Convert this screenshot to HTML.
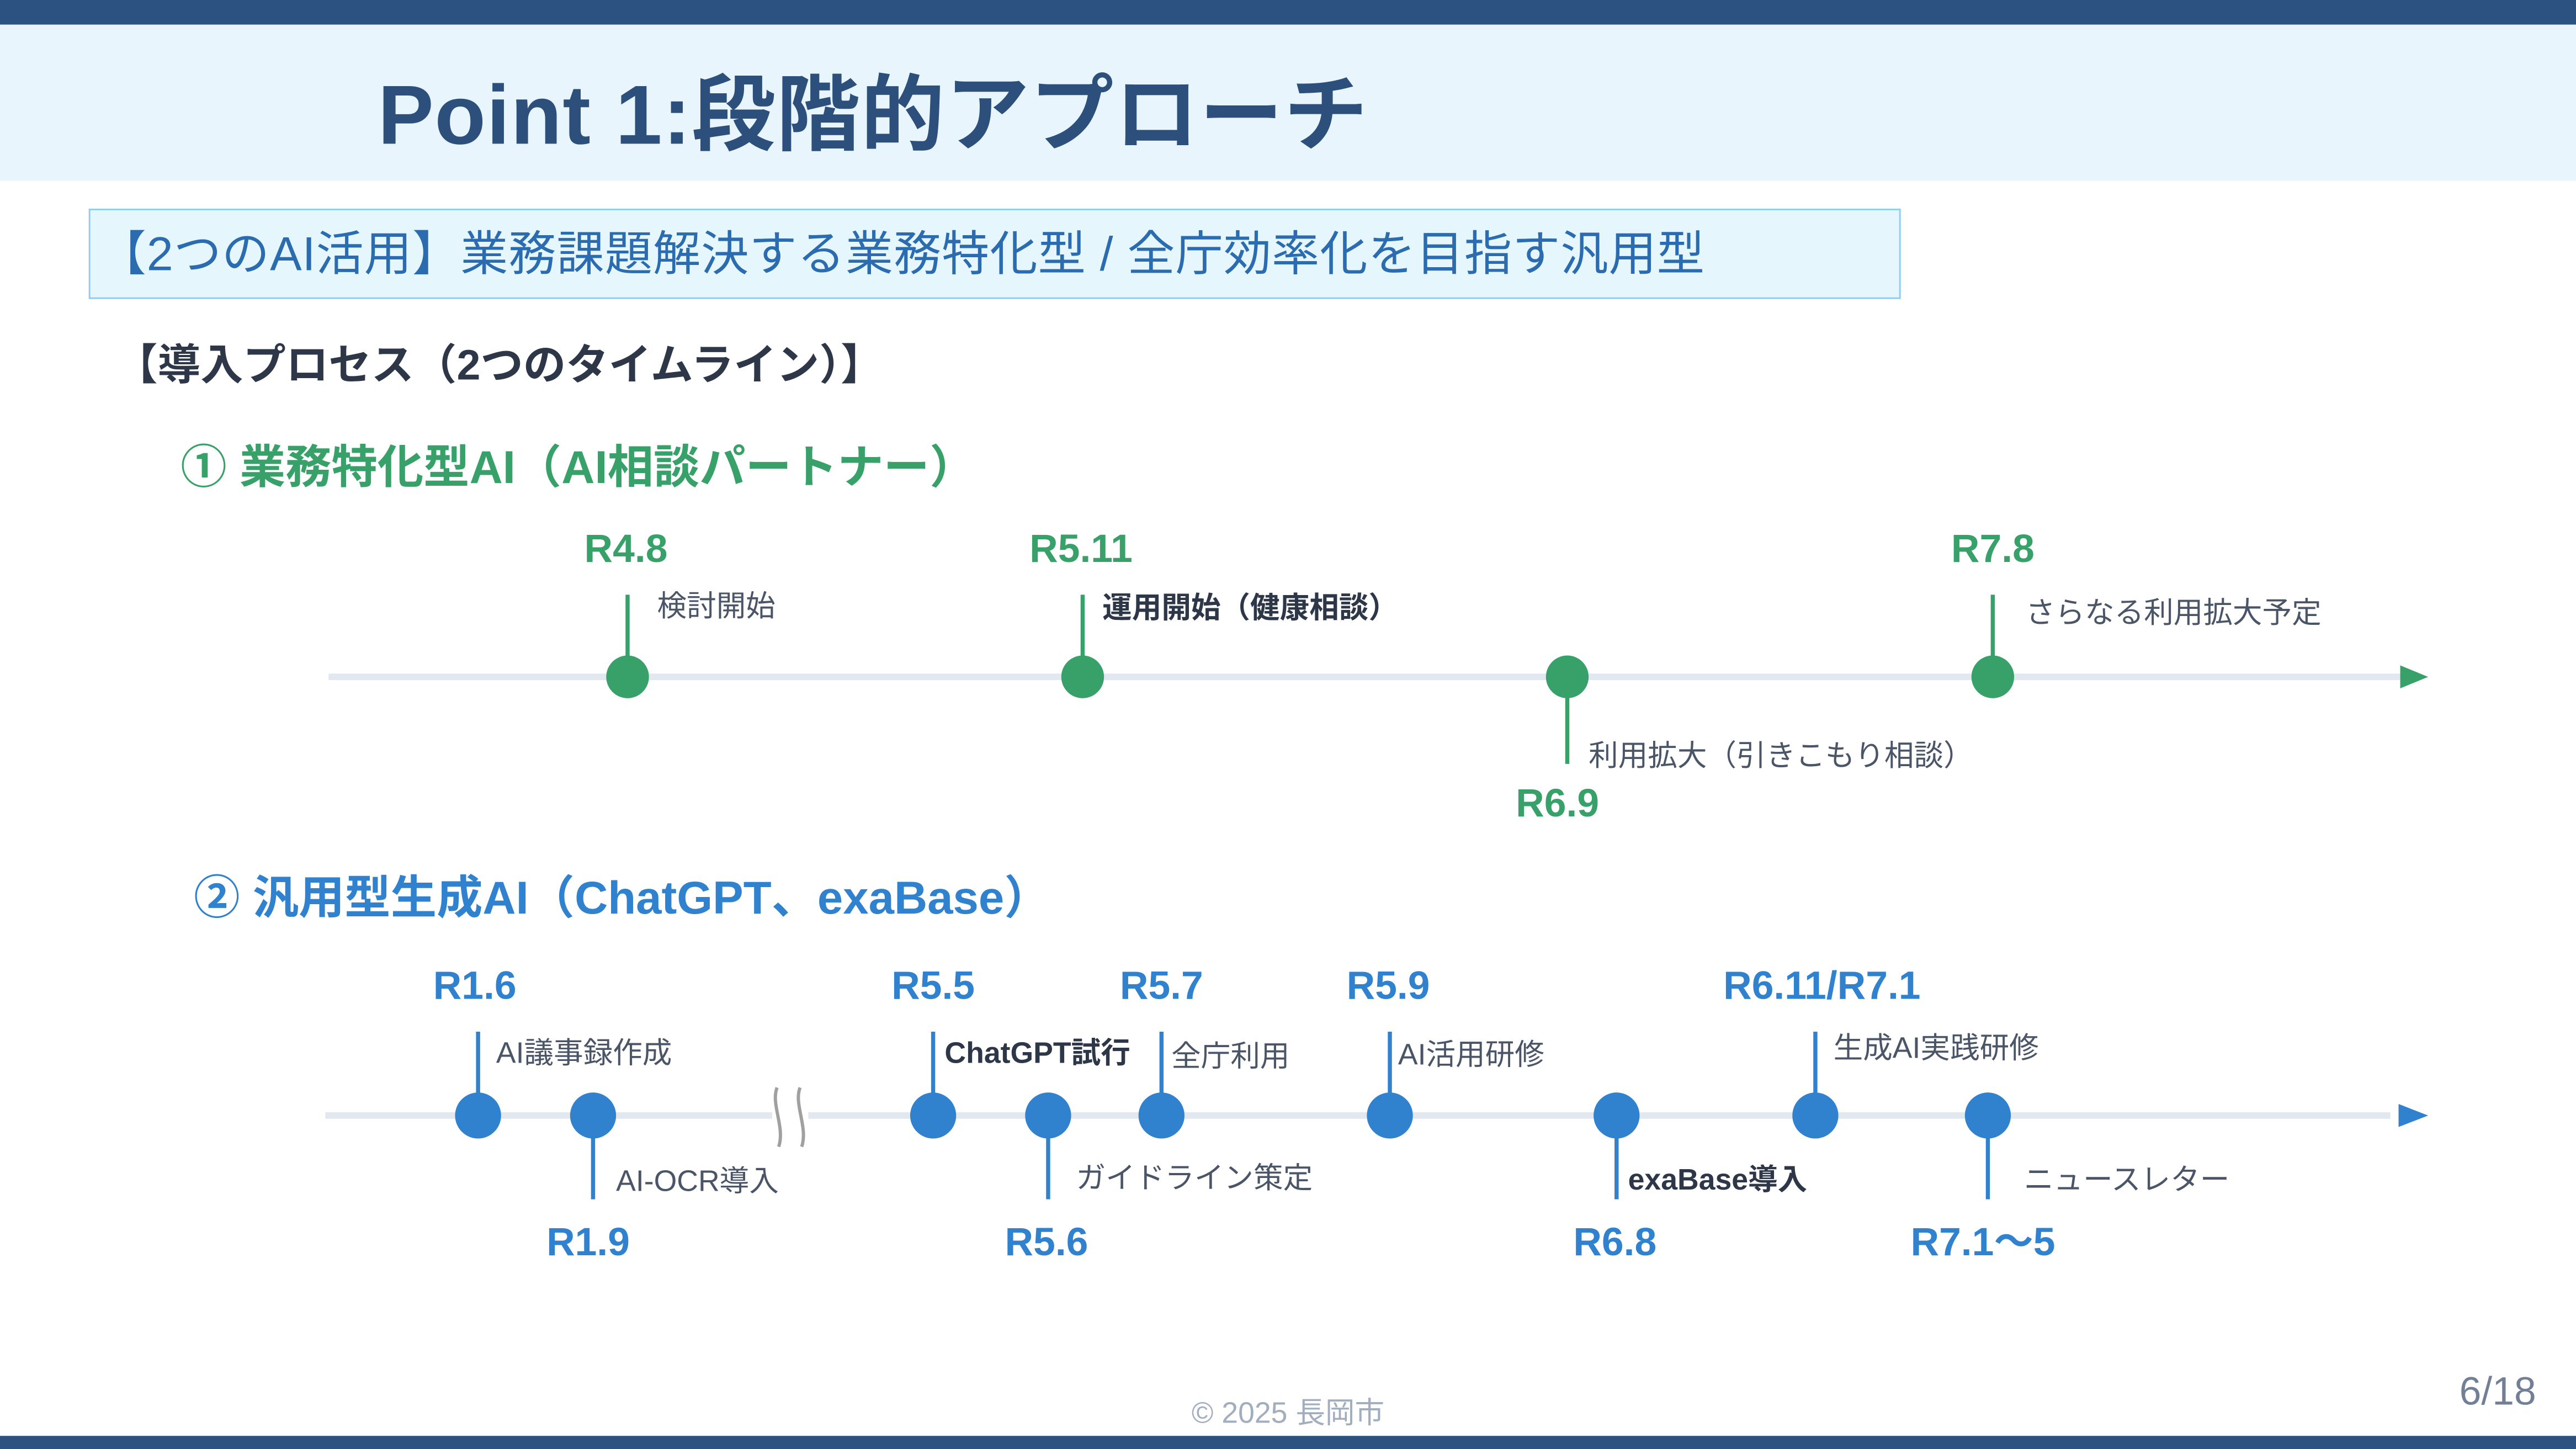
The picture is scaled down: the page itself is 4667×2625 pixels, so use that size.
<!DOCTYPE html>
<html><head><meta charset="utf-8"><style>
html,body{margin:0;padding:0;width:4667px;height:2625px;overflow:hidden;background:#fff}
#s{position:absolute;left:0;top:0;width:1568px;height:882px;transform:scale(2.97640,2.97619);transform-origin:0 0;font-family:"Liberation Sans","Noto Sans CJK JP",sans-serif}
.a{position:absolute;white-space:nowrap;line-height:1}
.l{transform:translateY(-50%)}
.c{transform:translate(-50%,-50%)}
.g{color:#38a169;font-weight:bold;font-size:24px}
.b{color:#3182ce;font-weight:bold;font-size:24px}
.t{color:#4a5568;font-size:18px}
.tb{color:#2d3748;font-size:18px;font-weight:bold}
</style></head><body><div id="s">
<div class="a" style="left:0;top:0;width:1568px;height:15px;background:#2c5282"></div>
<div class="a" style="left:0;top:15px;width:1568px;height:95px;background:#e9f5fd"></div>
<div class="a l" style="left:230px;top:70px;font-size:51px;color:#2c4f7c;font-weight:bold;letter-spacing:0.5px">Point 1:段階的アプローチ</div>
<div class="a" style="left:54px;top:127px;width:1101px;height:53px;background:#e6f6fd;border:1px solid #90cdf4"></div>
<div class="a l" style="left:60px;top:156px;font-size:29px;color:#2b6cb0;letter-spacing:0.3px">【2つのAI活用】業務課題解決する業務特化型 / 全庁効率化を目指す汎用型</div>
<div class="a l" style="left:70px;top:222px;font-size:26px;color:#2d3748;font-weight:bold">【導入プロセス（2つのタイムライン）】</div>
<div class="a l" style="left:110px;top:285px;font-size:28px;color:#38a169;font-weight:bold">① 業務特化型AI（AI相談パートナー）</div>
<div class="a l" style="left:118px;top:547px;font-size:28px;color:#3182ce;font-weight:bold">② 汎用型生成AI（ChatGPT、exaBase）</div>
<svg class="a" style="left:0;top:0" width="1568" height="882">
<line x1="200" y1="412" x2="1465" y2="412" stroke="#e2e8f0" stroke-width="4"/>
<polygon points="1461,405 1478,412 1461,419" fill="#38a169"/>
<g stroke="#38a169" stroke-width="2.5">
<line x1="382" y1="362" x2="382" y2="412"/><line x1="659" y1="362" x2="659" y2="412"/><line x1="1213" y1="362" x2="1213" y2="412"/><line x1="954" y1="412" x2="954" y2="465"/></g>
<g fill="#38a169"><circle cx="382" cy="412" r="13"/><circle cx="659" cy="412" r="13"/><circle cx="954" cy="412" r="13"/><circle cx="1213" cy="412" r="13"/></g>
<line x1="198" y1="679" x2="1455" y2="679" stroke="#e2e8f0" stroke-width="4"/>
<polygon points="1460,672 1478,679 1460,686" fill="#3182ce"/>
<g stroke="#3182ce" stroke-width="2.5">
<line x1="291" y1="628" x2="291" y2="679"/><line x1="568" y1="628" x2="568" y2="679"/><line x1="707" y1="628" x2="707" y2="679"/><line x1="846" y1="628" x2="846" y2="679"/><line x1="1105" y1="628" x2="1105" y2="679"/>
<line x1="361" y1="679" x2="361" y2="730"/><line x1="638" y1="679" x2="638" y2="730"/><line x1="984" y1="679" x2="984" y2="730"/><line x1="1210" y1="679" x2="1210" y2="730"/></g>
<g fill="#3182ce"><circle cx="291" cy="679" r="14"/><circle cx="361" cy="679" r="14"/><circle cx="568" cy="679" r="14"/><circle cx="638" cy="679" r="14"/><circle cx="707" cy="679" r="14"/><circle cx="846" cy="679" r="14"/><circle cx="984" cy="679" r="14"/><circle cx="1105" cy="679" r="14"/><circle cx="1210" cy="679" r="14"/></g>
<rect x="470" y="664" width="22" height="32" fill="#fff"/>
<path d="M473,662 C469,672 478,686 474,698 M487,662 C483,672 492,686 488,698" stroke="#a0a0a0" stroke-width="2" fill="none"/>
</svg>
<div class="a c g" style="left:381px;top:335px">R4.8</div>
<div class="a c g" style="left:658px;top:335px">R5.11</div>
<div class="a c g" style="left:1213px;top:335px">R7.8</div>
<div class="a c g" style="left:948px;top:490px">R6.9</div>
<div class="a l t" style="left:400px;top:369px">検討開始</div>
<div class="a l tb" style="left:671px;top:370px">運用開始（健康相談）</div>
<div class="a l t" style="left:1233px;top:373px">さらなる利用拡大予定</div>
<div class="a l t" style="left:967px;top:460px">利用拡大（引きこもり相談）</div>
<div class="a c b" style="left:289px;top:601px">R1.6</div>
<div class="a c b" style="left:568px;top:601px">R5.5</div>
<div class="a c b" style="left:707px;top:601px">R5.7</div>
<div class="a c b" style="left:845px;top:601px">R5.9</div>
<div class="a c b" style="left:1109px;top:601px">R6.11/R7.1</div>
<div class="a c b" style="left:358px;top:757px">R1.9</div>
<div class="a c b" style="left:637px;top:757px">R5.6</div>
<div class="a c b" style="left:983px;top:757px">R6.8</div>
<div class="a c b" style="left:1207px;top:757px">R7.1〜5</div>
<div class="a l t" style="left:302px;top:641px">AI議事録作成</div>
<div class="a l tb" style="left:575px;top:641px">ChatGPT試行</div>
<div class="a l t" style="left:713px;top:643px">全庁利用</div>
<div class="a l t" style="left:851px;top:642px">AI活用研修</div>
<div class="a l t" style="left:1116px;top:638px">生成AI実践研修</div>
<div class="a l t" style="left:375px;top:719px">AI-OCR導入</div>
<div class="a l t" style="left:655px;top:717px">ガイドライン策定</div>
<div class="a l tb" style="left:991px;top:718px">exaBase導入</div>
<div class="a l t" style="left:1232px;top:718px">ニュースレター</div>
<div class="a c" style="left:784px;top:860px;font-size:18px;color:#a0aec0">© 2025 長岡市</div>
<div class="a l" style="left:1497px;top:848px;font-size:24px;color:#718096">6/18</div>
<div class="a" style="left:0;top:874px;width:1568px;height:8px;background:#2c5282"></div>
</div></body></html>
